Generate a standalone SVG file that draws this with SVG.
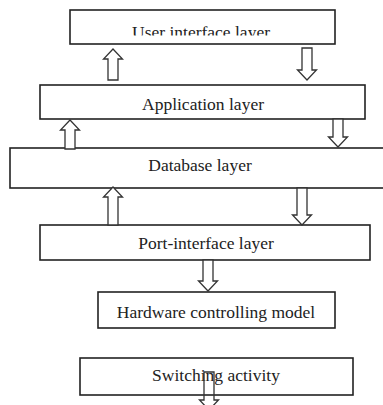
<svg xmlns="http://www.w3.org/2000/svg" width="383" height="405" viewBox="0 0 383 405">
<style>
.box{fill:#fff;stroke:#222;stroke-width:1.6}
.lbl{font-family:"Liberation Serif","Times New Roman",serif;font-size:17.5px;fill:#222;text-anchor:middle}
.arr{fill:#fff;stroke:#333;stroke-width:1.3;stroke-linejoin:miter}
.arr-open{fill:none}
</style>
<defs>
<clipPath id="clipTop"><rect x="70" y="10" width="265" height="25.5"/></clipPath>
</defs>
<rect width="383" height="405" fill="#fff"/>
<g id="n1"><rect class="box" x="70" y="10" width="265" height="34"/><text class="lbl" x="201" y="38" clip-path="url(#clipTop)">User interface layer</text></g>
<g id="n2"><rect class="box" x="40" y="85" width="325" height="34"/><text class="lbl" x="203" y="110">Application layer</text></g>
<g id="n3"><rect class="box" x="10" y="148" width="390" height="40"/><text class="lbl" x="200" y="171">Database layer</text></g>
<g id="n4"><rect class="box" x="40" y="225" width="330" height="35"/><text class="lbl" x="206" y="249">Port-interface layer</text></g>
<g id="n5"><rect class="box" x="98" y="292" width="237" height="36"/><text class="lbl" x="216" y="318">Hardware controlling model</text></g>
<g id="n6"><rect class="box" x="80" y="358" width="273" height="37"/><text class="lbl" x="216" y="381">Switching activity</text></g>
<g id="connectors">
<path class="arr" d="M113,49 L122.5,59 L118,59 L118,80 L108,80 L108,59 L103.5,59 Z"/>
<path class="arr" d="M307,80 L316.5,70 L312,70 L312,48 L302,48 L302,70 L297.5,70 Z"/>
<path class="arr" d="M70,120 L79.5,130 L75,130 L75,149 L65,149 L65,130 L60.5,130 Z"/>
<path class="arr" d="M338,147 L347.5,137 L343,137 L343,119 L333,119 L333,137 L328.5,137 Z"/>
<path class="arr" d="M113,187 L122.5,197 L118,197 L118,225 L108,225 L108,197 L103.5,197 Z"/>
<path class="arr" d="M302,225 L311.5,215 L307,215 L307,188 L297,188 L297,215 L292.5,215 Z"/>
<path class="arr" d="M208,291 L217.5,281 L213,281 L213,260 L203,260 L203,281 L198.5,281 Z"/>
<path class="arr arr-open" d="M209,410 L218.5,400 L214,400 L214,372 L204,372 L204,400 L199.5,400 Z"/>
</g>
</svg>
